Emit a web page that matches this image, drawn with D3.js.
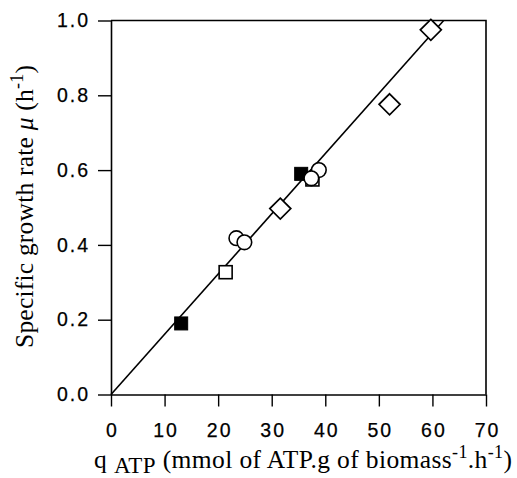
<!DOCTYPE html>
<html>
<head>
<meta charset="utf-8">
<script src="https://cdn.jsdelivr.net/npm/d3@7"></script>
<style>
  html, body { margin: 0; padding: 0; background: #fff; }
  svg { display: block; }
</style>
</head>
<body>
<svg id="chart" width="517" height="478"></svg>
<script>
// ---- data ----
const xTicks = [0, 10, 20, 30, 40, 50, 60, 70];
const yTicks = [0.0, 0.2, 0.4, 0.6, 0.8, 1.0];

const filledSquares = [
  { q: 13.1, mu: 0.190 },
  { q: 35.5, mu: 0.590 }
];
const openSquares = [
  { q: 21.4, mu: 0.327 },
  { q: 37.6, mu: 0.575 }
];
const openDiamonds = [
  { q: 31.6, mu: 0.497 },
  { q: 52.0, mu: 0.776 },
  { q: 59.7, mu: 0.975 }
];
const openCircles = [
  { q: 23.4, mu: 0.418 },
  { q: 24.9, mu: 0.407 },
  { q: 38.8, mu: 0.600 },
  { q: 37.4, mu: 0.578 }
];
const fitLine = [
  { q: 0, mu: 0 },
  { q: 62.1, mu: 1.0 }
];

// ---- layout ----
const svg = d3.select("#chart");
const mLeft = 111, mRight = 486, mTop = 20.5, mBottom = 394.5;

const x = d3.scaleLinear().domain([0, 70]).range([mLeft, mRight]);
const y = d3.scaleLinear().domain([0, 1]).range([mBottom, mTop]);

const ink = "#000";

// frame (top & right)
svg.append("path")
  .attr("d", `M${mLeft},${mTop}H${mRight}V${mBottom}`)
  .attr("fill", "none").attr("stroke", ink).attr("stroke-width", 1.6);

// axes
const xAxis = d3.axisBottom(x).tickValues(xTicks).tickFormat(d3.format("d"))
  .tickSize(12).tickSizeOuter(0).tickPadding(17);
const yAxis = d3.axisLeft(y).tickValues(yTicks).tickFormat(d3.format(".1f"))
  .tickSize(13).tickSizeOuter(0).tickPadding(10);

const gx = svg.append("g").attr("transform", `translate(0,${mBottom})`).call(xAxis);
const gy = svg.append("g").attr("transform", `translate(${mLeft},0)`).call(yAxis);

[gx, gy].forEach(g => {
  g.select(".domain").attr("stroke", ink).attr("stroke-width", 1.6);
  g.selectAll(".tick line").attr("stroke", ink).attr("stroke-width", 1.4);
  g.selectAll(".tick text")
    .attr("fill", ink)
    .attr("stroke", ink).attr("stroke-width", 0.25)
    .attr("font-family", "Liberation Sans, Arial, sans-serif")
    .attr("font-size", 19.5)
    .style("letter-spacing", "2px");
});
gx.selectAll(".tick text").attr("dx", "1px");
gy.selectAll(".tick text").attr("dx", "2px");

// fit line
const line = d3.line().x(d => x(d.q)).y(d => y(d.mu));
svg.append("path").datum(fitLine)
  .attr("d", line)
  .attr("fill", "none").attr("stroke", ink).attr("stroke-width", 1.6);

// markers
const sq = 13;
svg.append("g").selectAll("rect").data(filledSquares).join("rect")
  .attr("x", d => x(d.q) - sq / 2).attr("y", d => y(d.mu) - sq / 2)
  .attr("width", sq).attr("height", sq)
  .attr("fill", ink).attr("stroke", ink).attr("stroke-width", 1);

svg.append("g").selectAll("rect").data(openSquares).join("rect")
  .attr("x", d => x(d.q) - sq / 2).attr("y", d => y(d.mu) - sq / 2)
  .attr("width", sq).attr("height", sq)
  .attr("fill", "#fff").attr("stroke", ink).attr("stroke-width", 1.6);

const dia = 10.5;
svg.append("g").selectAll("path").data(openDiamonds).join("path")
  .attr("d", d => {
    const cx = x(d.q), cy = y(d.mu);
    return `M${cx},${cy - dia}L${cx + dia},${cy}L${cx},${cy + dia}L${cx - dia},${cy}Z`;
  })
  .attr("fill", "#fff").attr("stroke", ink).attr("stroke-width", 1.7);

svg.append("g").selectAll("circle").data(openCircles).join("circle")
  .attr("cx", d => x(d.q)).attr("cy", d => y(d.mu)).attr("r", 7.3)
  .attr("fill", "#fff").attr("stroke", ink).attr("stroke-width", 1.6);

// titles
const serif = "Liberation Serif, Times New Roman, serif";

const xt = svg.append("text")
  .attr("x", 94).attr("y", 468)
  .attr("textLength", 418).attr("lengthAdjust", "spacing")
  .attr("font-family", serif).attr("font-size", 25.5).attr("fill", ink);
xt.append("tspan").text("q ");
xt.append("tspan").attr("dy", 5).attr("font-size", 23).text("ATP");
xt.append("tspan").attr("dy", -5).text(" (mmol of ATP.g of biomass");
xt.append("tspan").attr("dy", -10).attr("font-size", 18).text("-1");
xt.append("tspan").attr("dy", 10).text(".h");
xt.append("tspan").attr("dy", -10).attr("font-size", 18).text("-1");
xt.append("tspan").attr("dy", 10).text(")");

const yt = svg.append("text")
  .attr("transform", "translate(33,348) rotate(-90)")
  .attr("x", 0).attr("y", 0)
  .attr("textLength", 283).attr("lengthAdjust", "spacing")
  .attr("font-family", serif).attr("font-size", 25.5).attr("fill", ink);
yt.append("tspan").text("Specific growth rate ");
yt.append("tspan").attr("font-style", "italic").text("\u03bc");
yt.append("tspan").text(" (h");
yt.append("tspan").attr("dy", -10).attr("font-size", 18).text("-1");
yt.append("tspan").attr("dy", 10).text(")");
</script>
</body>
</html>
